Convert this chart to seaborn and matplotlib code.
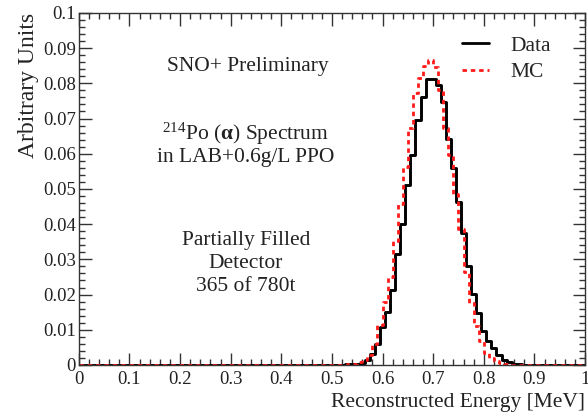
import numpy as np
import pandas as pd
import matplotlib
matplotlib.use("Agg")
import matplotlib.pyplot as plt
from matplotlib.lines import Line2D
from matplotlib.ticker import MultipleLocator, FixedLocator, FixedFormatter
import seaborn as sns

# ---- data ----
data_energy = [0.51, 0.52, 0.53, 0.54, 0.55, 0.56, 0.57, 0.58, 0.59, 0.60,
               0.61, 0.62, 0.63, 0.64, 0.65, 0.66, 0.67, 0.68, 0.69, 0.70,
               0.71, 0.72, 0.73, 0.74, 0.75, 0.76, 0.77, 0.78, 0.79, 0.80,
               0.81, 0.82, 0.83, 0.84, 0.85, 0.86, 0.87, 0.88]
data_height = [0.0001, 0.0001, 0.0002, 0.0002, 0.0003, 0.0005, 0.0013, 0.0032, 0.0059, 0.0107,
               0.0151, 0.0212, 0.0316, 0.0401, 0.0510, 0.0595, 0.0695, 0.0762, 0.0813, 0.0813,
               0.0795, 0.0748, 0.0642, 0.0559, 0.0464, 0.0374, 0.0282, 0.0201, 0.0147, 0.0096,
               0.0067, 0.0047, 0.0029, 0.0015, 0.0008, 0.0004, 0.0002, 0.0001]

mc_energy = [0.525, 0.535, 0.545, 0.555, 0.565, 0.575, 0.585, 0.595, 0.605, 0.615,
             0.625, 0.635, 0.645, 0.655, 0.665, 0.675, 0.685, 0.695, 0.705, 0.715,
             0.725, 0.735, 0.745, 0.755, 0.765, 0.775, 0.785, 0.795, 0.805, 0.815,
             0.825, 0.835, 0.845]
mc_height = [0.0001, 0.0002, 0.0004, 0.0008, 0.0015, 0.0028, 0.0060, 0.0115, 0.0180, 0.0250,
             0.0352, 0.0458, 0.0563, 0.0672, 0.0772, 0.0815, 0.0848, 0.0866, 0.0845, 0.0780,
             0.0672, 0.0595, 0.0485, 0.0385, 0.0265, 0.0175, 0.0110, 0.0068, 0.0035, 0.0020,
             0.0010, 0.0005, 0.0002]

x_ticks = [0, 0.1, 0.2, 0.3, 0.4, 0.5, 0.6, 0.7, 0.8, 0.9, 1.0]
x_tick_labels = ["0", "0.1", "0.2", "0.3", "0.4", "0.5", "0.6", "0.7", "0.8", "0.9", "1"]
y_ticks = [0, 0.01, 0.02, 0.03, 0.04, 0.05, 0.06, 0.07, 0.08, 0.09, 0.1]
y_tick_labels = ["0", "0.01", "0.02", "0.03", "0.04", "0.05", "0.06", "0.07", "0.08", "0.09", "0.1"]

data_df = pd.DataFrame({"energy": data_energy, "height": data_height})
mc_df = pd.DataFrame({"energy": mc_energy, "height": mc_height})

data_edges = [round(v, 4) for v in np.arange(-0.005, 1.0051, 0.01)]
mc_edges = [round(v, 4) for v in np.arange(0.0, 1.0001, 0.01)]

# ---- style ----
sns.set_theme(style="ticks")
plt.rcParams["font.family"] = ["Liberation Serif", "DejaVu Serif"]
plt.rcParams["mathtext.fontset"] = "custom"
plt.rcParams["mathtext.rm"] = "Liberation Serif"
plt.rcParams["mathtext.bf"] = "Liberation Serif:bold"
plt.rcParams["mathtext.it"] = "Liberation Serif:italic"

fig = plt.figure(figsize=(5.88, 4.16), dpi=100)
ax = fig.add_axes([0.134, 0.1226, 0.861, 0.8464])

red = "#ff1a1a"
dash = (0, (1.6, 1.4))

sns.histplot(data=data_df, x="energy", weights="height", bins=data_edges,
             element="step", fill=False, color="black", linewidth=2.1, ax=ax)
sns.histplot(data=mc_df, x="energy", weights="height", bins=mc_edges,
             element="step", fill=False, color=red, linewidth=2.0,
             linestyle=dash, ax=ax)

ax.set_xlim(0, 1)
ax.set_ylim(0, 0.1)

ax.xaxis.set_major_locator(FixedLocator(x_ticks))
ax.xaxis.set_major_formatter(FixedFormatter(x_tick_labels))
ax.yaxis.set_major_locator(FixedLocator(y_ticks))
ax.yaxis.set_major_formatter(FixedFormatter(y_tick_labels))
ax.xaxis.set_minor_locator(MultipleLocator(0.02))
ax.yaxis.set_minor_locator(MultipleLocator(0.002))

ax.tick_params(which="both", direction="in", top=True, right=True,
               color="#333333", width=1.0, labelsize=13.5, labelcolor="#222222")
ax.tick_params(which="major", length=9)
ax.tick_params(axis="x", which="major", pad=4)
ax.tick_params(axis="y", which="major", pad=2)
ax.tick_params(which="minor", length=4.5)
for s in ax.spines.values():
    s.set_color("#333333")
    s.set_linewidth(1.0)

ax.set_xlabel("Reconstructed Energy [MeV]", loc="right", fontsize=15.5, color="#222222", labelpad=4)
ax.set_ylabel("Arbitrary Units", loc="top", fontsize=17, color="#222222", labelpad=3)

tkw = dict(ha="center", va="center", fontsize=15.5, color="#222222")
ax.text(0.334, 0.0847, "SNO+ Preliminary", **tkw)
ax.text(0.33, 0.0657, r"$^{\mathrm{214}}$Po ($\mathbf{\alpha}$) Spectrum", **tkw)
ax.text(0.33, 0.0589, "in LAB+0.6g/L PPO", **tkw)
ax.text(0.33, 0.0355, "Partially Filled", **tkw)
ax.text(0.33, 0.0287, "Detector", **tkw)
ax.text(0.33, 0.0222, "365 of 780t", **tkw)

handles = [Line2D([], [], color="black", linewidth=2.0),
           Line2D([], [], color=red, linewidth=2.0, linestyle=dash)]
ax.legend(handles, ["Data", "MC"], loc="upper right", bbox_to_anchor=(0.95, 0.96),
          frameon=False, fontsize=15.5, handlelength=1.25, handletextpad=1.0,
          labelspacing=0.3, borderaxespad=0)

fig.savefig("out.png", dpi=100)
